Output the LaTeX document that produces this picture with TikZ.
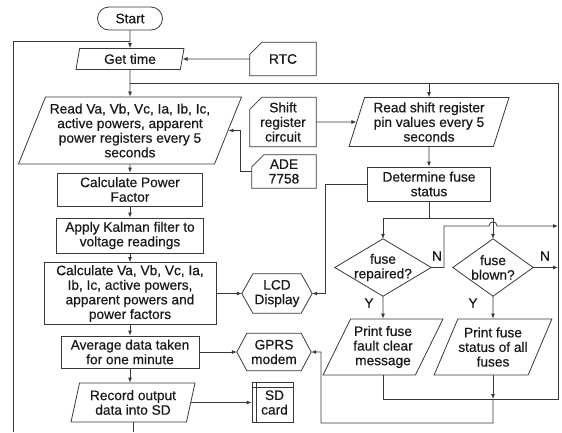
\documentclass[tikz,border=0pt]{standalone}
\usepackage{fontspec}
\setmainfont[FakeBold=0.5]{Liberation Sans}
\usetikzlibrary{shapes.geometric,arrows.meta,calc}
\begin{document}
\begin{tikzpicture}[x=1pt,y=-1pt,
  every node/.style={font=\fontsize{13.7}{14.6}\selectfont, text=black!90, align=center, inner sep=0.5pt},
  ln/.style={draw=black!78, line width=0.8pt},
  arr/.style={ln, -{Latex[length=5pt,width=4pt]}},
  term/.style={rectangle, rounded corners=11.5pt, ln},
  proc/.style={rectangle, ln},
  io/.style={trapezium, trapezium stretches body, ln},
  card/.style={rectangle, draw=none},
  disp/.style={rectangle, draw=none},
  stor/.style={rectangle, ln},
  dia/.style={rectangle, draw=none},
  lab/.style={inner sep=0pt}
]
\useasboundingbox (0,0) rectangle (562,432);

% main column
\node[term, minimum width=65pt, minimum height=23pt] (start) at (130,18.5) {Start};
\node[io, trapezium left angle=71.6, trapezium right angle=108.4, minimum width=108pt, minimum height=21pt] (gettime) at (130,59) {Get time};
\node[io, trapezium left angle=63.8, trapezium right angle=116.2, minimum width=223pt, minimum height=67pt] (readva) at (130,130.5) {Read Va, Vb, Vc, Ia, Ib, Ic,\\active powers, apparent\\power registers every 5\\seconds};
\node[proc, minimum width=145pt, minimum height=33pt] (pf) at (130,189.5) {Calculate Power\\Factor};
\node[proc, minimum width=147pt, minimum height=35pt] (kal) at (130,235.5) {Apply Kalman filter to\\voltage readings};
\node[proc, minimum width=172pt, minimum height=62pt] (calc) at (130,293.5) {Calculate Va, Vb, Vc, Ia,\\Ib, Ic, active powers,\\apparent powers and\\power factors};
\node[proc, minimum width=138pt, minimum height=32pt] (avg) at (130,352) {Average data taken\\for one minute};
\node[io, trapezium left angle=71.6, trapezium right angle=108.4, minimum width=124pt, minimum height=39pt] (rec) at (133,402.5) {Record output\\data into SD};

% peripherals
\node[card, minimum width=66pt, minimum height=33pt] (rtc) at (283,59) {RTC};
\node[card, minimum width=66pt, minimum height=49pt] (shiftc) at (283,122) {Shift\\register\\circuit};
\node[card, minimum width=64pt, minimum height=33pt] (ade) at (284,171.5) {ADE\\7758};
\node[disp, minimum width=70pt, minimum height=39pt] (lcd) at (277,293.5) {LCD\\Display};
\node[disp, minimum width=74pt, minimum height=37pt] (gprs) at (274,352) {GPRS\\modem};
\node[stor, minimum width=41pt, minimum height=40pt] (sd) at (272.5,402.5) {\hspace*{4pt}SD\\\hspace*{4pt}card};

% right column
\node[io, trapezium left angle=68.8, trapezium right angle=111.2, minimum width=160pt, minimum height=49pt] (readshift) at (429,122) {Read shift register\\pin values every 5\\seconds};
\node[proc, minimum width=123pt, minimum height=34pt] (det) at (429,184) {Determine fuse\\status};
\node[dia, minimum width=96pt, minimum height=57pt] (rep) at (383,267.5) {fuse\\repaired?};
\node[dia, minimum width=80pt, minimum height=57pt] (blown) at (493,267.5) {fuse\\blown?};
\node[io, trapezium left angle=57.3, trapezium right angle=122.7, minimum width=120pt, minimum height=56pt] (pclear) at (383,347) {Print fuse\\fault clear\\message};
\node[io, trapezium left angle=59.5, trapezium right angle=120.5, minimum width=114pt, minimum height=56pt] (pstat) at (493,347) {Print fuse\\status of all\\fuses};

% labels
\node[lab] (n1) at (437,256) {N};
\node[lab] (n2) at (545,256) {N};
\node[lab] (y1) at (369,303) {Y};
\node[lab] (y2) at (473,303) {Y};

% custom outlines
\foreach \n in {rtc,shiftc,ade}
  \draw[ln] ([xshift=12pt]\n.north west) -- (\n.north east) -- (\n.south east) -- (\n.south west) -- ([yshift=-12pt]\n.north west) -- cycle;
\foreach \n/\c in {lcd/11,gprs/10}
  \draw[ln] (\n.west) -- ([xshift=\c pt]\n.north west) -- ([xshift=-\c pt]\n.north east) -- (\n.east) -- ([xshift=-\c pt]\n.south east) -- ([xshift=\c pt]\n.south west) -- cycle;
\draw[ln] ([xshift=5pt]sd.north west) -- ([xshift=5pt]sd.south west);
\draw[ln] ([yshift=-5pt]sd.north west) -- ([yshift=-5pt]sd.north east);
\foreach \n in {rep,blown}
  \draw[ln] (\n.north) -- (\n.east) -- (\n.south) -- (\n.west) -- cycle;

% coordinates
\coordinate (lb) at (13,432);
\coordinate (lt) at (13,41);
\coordinate (rt) at (558,83);
\coordinate (rb) at (558,399);
\coordinate (lk) at (325,184);
\coordinate (nk) at (444,226);
\coordinate (gb) at (493,423);
\coordinate (gk) at (321,352);

% connectors
\draw[arr] (start) -- (gettime);
\draw[ln] (lb) -- (lt) -- (lt -| gettime.north);
\draw[arr] (rtc.west) -- (gettime.east);
\draw[arr] (gettime) -- (readva);
\draw[ln] (gettime.south |- rt) -- (rt);
\draw[arr] (pclear.south) |- (rb) -- (rt) -| (readshift.north);
\draw[arr] (shiftc.east) -- (readshift.west);
\draw[arr] (ade.west) -- ++(-11,0) |- (readva.east);
\draw[arr] (readva) -- (pf);
\draw[arr] (pf) -- (kal);
\draw[arr] (kal) -- (calc);
\draw[arr] (calc) -- (avg);
\draw[arr] (avg.south) -- (avg.south |- rec.north);
\draw[ln] (rec.south) -- (rec.south |- lb);
\draw[arr] (calc.east) -- (lcd.west);
\draw[arr] (avg.east) -- (gprs.west);
\draw[arr] (rec.east) -- (sd.west);
\draw[arr] (readshift) -- (det);
\draw[arr] (det.west) -- (lk) |- (lcd.east);
\draw[ln] (det.south) -- ++(0,17) coordinate (dj);
\draw[arr] (dj) -| (rep.north);
\draw[arr] (dj) -| (blown.north);
\draw[arr] (rep.east) -| (nk) -- (489,226) .. controls (489,220.5) and (497,220.5) .. (497,226) -- (nk -| rt);
\draw[arr] (blown.east) -- (blown.east -| rb);
\draw[arr] (rep.south) -- (pclear.north);
\draw[arr] (blown.south) -- (pstat.north);
\draw[arr] (pstat.south) -- (pstat.south |- rb);
\draw[arr] (pstat.south |- rb) -- (gb) -| (gk) -- (gprs.east);
\end{tikzpicture}
\end{document}
